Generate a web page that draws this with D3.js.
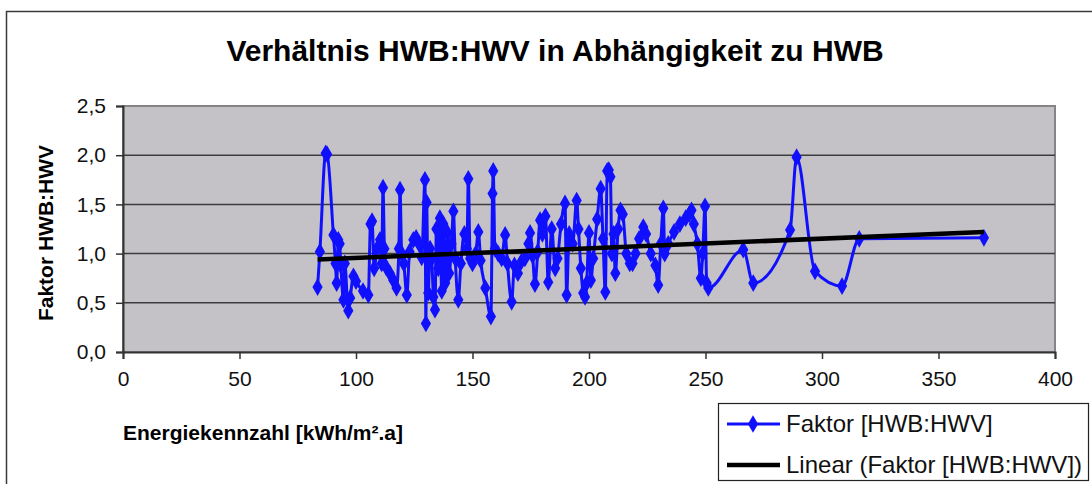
<!DOCTYPE html>
<html>
<head>
<meta charset="utf-8">
<script src="https://cdn.jsdelivr.net/npm/d3@7"></script>
<style>
  body { margin: 0; background: #fff; }
  svg { display: block; font-family: "Liberation Sans", Arial, sans-serif; }
</style>
</head>
<body>
<svg id="chart"></svg>
<script>
// Energiekennzahl (HWB) per building, sorted as in the sheet
var hwb = [
  83.5, 84.5, 87.0, 87.6, 90.3, 91.2, 91.7, 92.4, 93.0, 93.5, 94.6, 95.2, 96.7, 97.5, 98.9,
  100.0, 103.0, 105.3, 106.2, 106.9, 107.8, 109.0, 110.3, 111.0, 111.6, 112.2, 113.0, 114.5,
  116.0, 117.4, 118.4, 118.9, 119.6, 120.5, 121.8, 123.0, 124.6, 125.8, 127.0, 128.2, 129.6,
  130.0, 130.3, 131.0, 131.8, 132.5, 133.2, 133.9, 134.5, 135.3, 136.0, 136.8, 137.5, 138.3,
  139.3, 140.0, 141.0, 141.8, 142.6, 143.9, 145.0, 146.5, 147.6, 148.2, 149.0, 150.0, 151.4,
  152.5, 153.5, 155.5, 157.9, 158.6, 158.9, 159.6, 161.0, 162.5, 164.0, 165.0, 166.8, 168.0,
  169.5, 171.0, 172.5, 174.0, 174.7, 175.8, 176.8, 178.0, 179.0, 180.0, 181.3, 182.5, 184.0,
  185.5, 186.5, 188.0, 189.7, 190.4, 191.5, 193.0, 194.7, 195.5, 196.5, 197.5, 198.3, 199.0,
  200.0, 200.8, 201.8, 203.5, 205.0, 206.0, 207.0, 207.8, 208.5, 209.2, 209.8, 210.5, 211.3,
  212.5, 213.5, 214.5, 216.0, 217.5, 218.7, 220.0, 221.5, 223.3, 224.5, 226.5, 228.5, 229.7,
  230.8, 231.9, 232.5, 234.0, 236.5, 239.0, 241.5, 243.0, 244.0, 245.0, 246.5, 248.0, 248.8,
  249.8, 250.5, 251.2, 266.2, 270.5, 286.3, 289.1, 297.0, 308.6, 316.0, 369.5
];
// Faktor HWB:HWV
var faktor = [
  0.66, 1.02, 2.02, 2.01, 1.19, 0.90, 0.70, 1.14, 1.10, 0.88, 0.53, 0.90, 0.42, 0.55, 0.77,
  0.72, 0.62, 0.58, 1.30, 1.33, 0.85, 1.05, 1.14, 0.90, 1.67, 1.05, 0.86, 0.80,
  0.73, 0.65, 1.05, 1.65, 1.00, 0.90, 0.58, 1.02, 1.14, 1.16, 1.10, 0.96, 1.75,
  0.29, 1.52, 0.60, 1.05, 0.95, 0.56, 0.43, 1.25, 0.85, 1.36, 0.62, 1.30, 0.70,
  1.21, 0.80, 1.10, 1.43, 0.95, 0.53, 0.90, 1.20, 1.05, 1.76, 0.95, 0.90, 1.00,
  1.22, 0.93, 0.65, 0.36, 1.61, 1.84, 1.05, 1.00, 0.95, 1.19, 0.90, 0.51, 0.88,
  0.80, 0.92, 0.95, 1.10, 1.21, 0.98, 0.69, 1.02, 1.34, 1.20, 1.38, 0.71, 1.25,
  0.85, 0.95, 1.30, 1.51, 0.58, 1.20, 1.10, 1.54, 1.25, 0.85, 0.60, 0.56, 0.70,
  1.21, 0.73, 0.95, 1.35, 1.66, 1.15, 0.61, 1.84, 1.85, 1.78, 1.00, 1.20, 0.80,
  1.25, 1.44, 1.40, 1.00, 0.90, 0.90, 1.00, 1.15, 1.27, 1.20, 1.00, 0.88, 0.68,
  1.10, 1.46, 1.00, 1.10, 1.22, 1.30, 1.36, 1.40, 1.44, 1.30, 1.10, 0.75, 1.00,
  1.48, 0.70, 0.65, 1.04, 0.70, 1.24, 1.98, 0.82, 0.67, 1.15, 1.16
];
// linear trend
var trendIntercept = 0.858;
var trendSlope = 0.00098;

var xTicks = [0, 50, 100, 150, 200, 250, 300, 350, 400];
var yTicks = [0, 0.5, 1.0, 1.5, 2.0, 2.5];
var legendLabels = ["Faktor [HWB:HWV]", "Linear (Faktor [HWB:HWV])"];

var width = 1092, height = 484;
var plot = {left: 123, top: 106, right: 1055, bottom: 352};
var svg = d3.select("#chart").attr("width", width).attr("height", height);

var deLocale = d3.formatLocale({decimal: ",", thousands: ".", grouping: [3], currency: ["", " €"]});
var fmt = deLocale.format(".1f");

var x = d3.scaleLinear().domain([0, 400]).range([plot.left, plot.right]);
var y = d3.scaleLinear().domain([0, 2.5]).range([plot.bottom, plot.top]);

// chart frame
svg.append("rect")
  .attr("x", 6.5).attr("y", 11.5)
  .attr("width", width + 20).attr("height", height + 20)
  .attr("fill", "#fff").attr("stroke", "#3a3a3a").attr("stroke-width", 1.5);

// plot area
svg.append("rect")
  .attr("x", plot.left).attr("y", plot.top)
  .attr("width", plot.right - plot.left).attr("height", plot.bottom - plot.top)
  .attr("fill", "#c4c2c6").attr("stroke", "#858585").attr("stroke-width", 2);

// gridlines
svg.append("g").selectAll("line")
  .data(yTicks.filter(function(d) { return d > 0 && d < 2.5; }))
  .enter().append("line")
  .attr("x1", plot.left).attr("x2", plot.right)
  .attr("y1", function(d) { return y(d); }).attr("y2", function(d) { return y(d); })
  .attr("stroke", "#3c3c3c").attr("stroke-width", 1.5);

// axes
var xAxis = svg.append("g")
  .attr("transform", "translate(0," + plot.bottom + ")")
  .call(d3.axisBottom(x).tickValues(xTicks).tickSize(7).tickPadding(12).tickFormat(d3.format("d")));
var yAxis = svg.append("g")
  .attr("transform", "translate(" + plot.left + ",0)")
  .call(d3.axisLeft(y).tickValues(yTicks).tickSize(7).tickPadding(10).tickFormat(fmt));
[xAxis, yAxis].forEach(function(a) {
  a.select(".domain").attr("stroke", "#333").attr("stroke-width", 2);
  a.selectAll(".tick line").attr("stroke", "#333").attr("stroke-width", 1.5);
  a.selectAll(".tick text").attr("fill", "#111").style("font-size", "21px")
    .style("font-family", "'Liberation Sans', Arial, sans-serif");
});

// data series (smoothed like the spreadsheet line)
var pts = hwb.map(function(d, i) { return [d, faktor[i]]; });
var line = d3.line()
  .x(function(d) { return x(d[0]); })
  .y(function(d) { return y(d[1]); })
  .curve(d3.curveMonotoneX);

svg.append("path")
  .datum(pts)
  .attr("d", line)
  .attr("fill", "none").attr("stroke", "#1010ff").attr("stroke-width", 3);

var diamond = d3.symbol().type(d3.symbolDiamond).size(90);
svg.append("g").selectAll("path")
  .data(pts)
  .enter().append("path")
  .attr("d", diamond)
  .attr("transform", function(d) { return "translate(" + x(d[0]) + "," + y(d[1]) + ")"; })
  .attr("fill", "#1010ff");

// trend line
var xMin = d3.min(hwb), xMax = d3.max(hwb);
svg.append("line")
  .attr("x1", x(xMin)).attr("y1", y(trendIntercept + trendSlope * xMin))
  .attr("x2", x(xMax)).attr("y2", y(trendIntercept + trendSlope * xMax))
  .attr("stroke", "#000").attr("stroke-width", 4.5);

// titles
svg.append("text")
  .attr("x", 555).attr("y", 61)
  .attr("text-anchor", "middle")
  .style("font-size", "30px").style("font-weight", "bold")
  .text("Verhältnis HWB:HWV in Abhängigkeit zu HWB");

svg.append("text")
  .attr("x", plot.left).attr("y", 440)
  .style("font-size", "21px").style("font-weight", "bold")
  .text("Energiekennzahl [kWh/m².a]");

svg.append("text")
  .attr("transform", "translate(53," + ((plot.top + plot.bottom) / 2 + 4) + ") rotate(-90)")
  .attr("text-anchor", "middle")
  .style("font-size", "21px").style("font-weight", "bold")
  .text("Faktor HWB:HWV");

// legend
var legend = svg.append("g");
legend.append("rect")
  .attr("x", 718.5).attr("y", 403.5).attr("width", 370).attr("height", 77)
  .attr("fill", "#fff").attr("stroke", "#222").attr("stroke-width", 1.2);

var rows = legend.selectAll("g.row")
  .data(legendLabels)
  .enter().append("g")
  .attr("class", "row")
  .attr("transform", function(d, i) { return "translate(0," + (424 + i * 41) + ")"; });

rows.append("line")
  .attr("x1", 727).attr("x2", 780).attr("y1", 0).attr("y2", 0)
  .attr("stroke", function(d, i) { return i === 0 ? "#1010ff" : "#000"; })
  .attr("stroke-width", function(d, i) { return i === 0 ? 3 : 4.5; });

rows.filter(function(d, i) { return i === 0; })
  .append("path")
  .attr("d", diamond)
  .attr("transform", "translate(753,0)")
  .attr("fill", "#1010ff");

rows.append("text")
  .attr("x", 786).attr("y", 8)
  .style("font-size", "24px")
  .attr("fill", "#111")
  .text(function(d) { return d; });
</script>
</body>
</html>
